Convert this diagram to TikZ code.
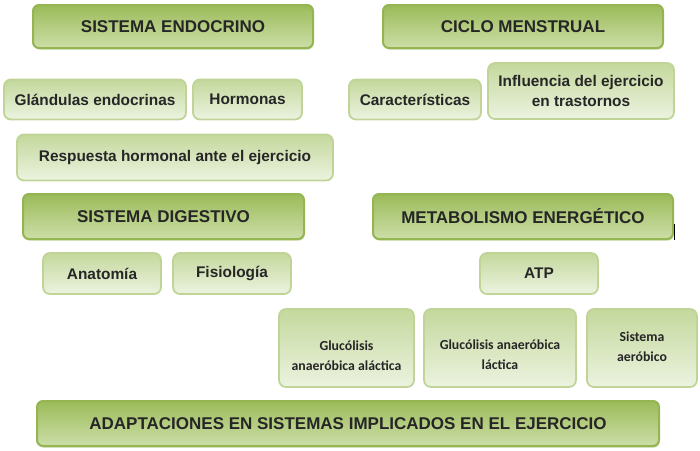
\documentclass[tikz,border=0pt]{standalone}
\usepackage{fontspec}
\setmainfont{Liberation Sans}
\newfontfamily\calibri{Carlito}
\usetikzlibrary{shadows}
\definecolor{hdTop}{HTML}{9BBB59}
\definecolor{hdBot}{HTML}{CCDEA8}
\definecolor{hdLine}{HTML}{94B552}
\definecolor{itTop}{HTML}{C4D89C}
\definecolor{itBot}{HTML}{ECF3E0}
\definecolor{itLine}{HTML}{C0D498}
\definecolor{ink}{HTML}{262626}
\tikzset{
    header/.style={rounded corners=6pt, draw=hdLine, line width=2pt,
        top color=hdTop, bottom color=hdBot, text=ink,
        font=\fontsize{17}{20}\selectfont\bfseries,
        drop shadow={shadow xshift=0.6pt, shadow yshift=-1.6pt, fill=hdLine, opacity=0.5}},
    item/.style={rounded corners=7pt, draw=itLine, line width=1.8pt,
        top color=itTop, bottom color=itBot, text=ink, align=center,
        font=\fontsize{15.4}{20}\selectfont\bfseries},
    pathway/.style={font=\calibri\fontsize{13.8}{20}\selectfont\bfseries}
}
\newcommand{\drawHeader}[6]{
    \node[header, minimum width=#4pt, minimum height=#5pt] (#1) at (#2,#3) {#6};
}
\newcommand{\drawItem}[7][]{
    \node[item, #1, minimum width=#5pt, minimum height=#6pt] (#2) at (#3,#4) {#7};
}
% two lines, moved down by #1 inside the box
\newcommand{\twoLines}[3]{\raisebox{#1}[0pt][0pt]{\begin{tabular}{@{}c@{}}#2\\#3\end{tabular}}}

\begin{document}
\begin{tikzpicture}[x=1pt, y=-1pt]
\useasboundingbox (0,0) rectangle (700,450);

% Endocrine system and menstrual cycle
\drawHeader{endocrino}{173}{26.5}{280}{43}{SISTEMA ENDOCRINO}
\drawHeader{ciclo}{523}{26.5}{280}{43}{CICLO MENSTRUAL}
\drawItem{glandulas}{95}{99.5}{182}{40}{Glándulas endocrinas}
\drawItem{hormonas}{247.5}{99.5}{109}{40}{Hormonas}
\drawItem{respuesta}{175}{157.5}{316}{46}{Respuesta hormonal ante el ejercicio}
\drawItem{caracteristicas}{415}{99.5}{132}{40}{Características}
\drawItem{influencia}{581}{91}{186}{56}{Influencia del ejercicio\\en trastornos}

% Digestive system and energy metabolism
\drawHeader{digestivo}{163.5}{216.5}{281}{45}{SISTEMA DIGESTIVO}
\drawHeader{metabolismo}{523}{216.5}{300}{45}{METABOLISMO ENERGÉTICO}
\drawItem{anatomia}{102}{273.5}{118}{41}{Anatomía}
\drawItem{fisiologia}{232}{273.5}{118}{41}{Fisiología}
\drawItem{atp}{539}{273.5}{118}{41}{ATP}
\coordinate (cursor) at (674,224);
\draw[line width=1pt] (cursor) -- ++(0,16);

% Energy pathways
\drawItem[pathway]{alactica}{346.5}{348}{135}{78}{\twoLines{-12pt}{Glucólisis}{anaeróbica aláctica}}
\drawItem[pathway]{lactica}{500}{348}{152}{78}{\twoLines{-11pt}{Glucólisis anaeróbica}{láctica}}
\drawItem[pathway]{aerobico}{642}{348}{110}{78}{\twoLines{-3pt}{Sistema}{aeróbico}}

% Bottom banner
\drawHeader{adaptaciones}{348}{423.5}{622}{45}{ADAPTACIONES EN SISTEMAS IMPLICADOS EN EL EJERCICIO}

\end{tikzpicture}
\end{document}
